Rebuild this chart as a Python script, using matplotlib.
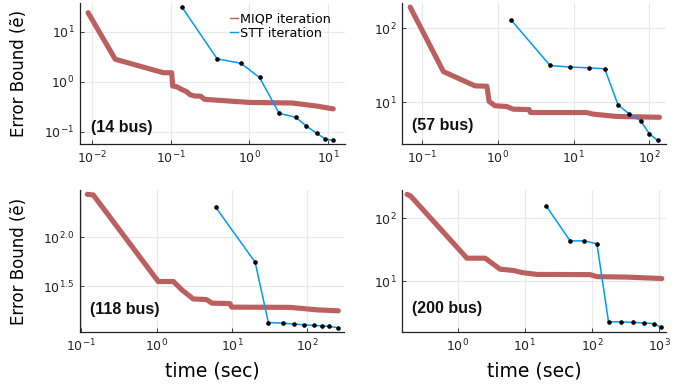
import matplotlib
matplotlib.use("Agg")
import matplotlib.pyplot as plt
from matplotlib.lines import Line2D
from matplotlib.ticker import FixedLocator, FixedFormatter, NullLocator

# ---- data (time in sec, error bound) ----
miqp14_t = [0.0089, 0.0197, 0.081, 0.103, 0.106, 0.12, 0.14, 0.16, 0.175, 0.2, 0.24, 0.27, 1.0, 3.5, 7.2, 11.7]
miqp14_e = [24.3, 2.85, 1.53, 1.53, 0.83, 0.80, 0.70, 0.64, 0.56, 0.525, 0.52, 0.45, 0.39, 0.38, 0.33, 0.29]
stt14_t = [0.14, 0.39, 0.78, 1.35, 2.4, 3.9, 5.3, 7.2, 9.3, 11.7]
stt14_e = [31, 2.9, 2.37, 1.23, 0.236, 0.196, 0.132, 0.094, 0.072, 0.068]

miqp57_t = [0.070, 0.192, 0.50, 0.72, 0.77, 0.92, 1.31, 1.6, 2.6, 2.7, 14.8, 18, 37, 136]
miqp57_e = [192, 26, 16.7, 16.5, 10.3, 9.0, 8.8, 8.1, 8.0, 7.3, 7.3, 6.95, 6.46, 6.3]
stt57_t = [1.5, 4.9, 8.9, 16, 25.8, 38.6, 54, 77, 100, 129]
stt57_e = [129, 31.4, 29.9, 29.2, 28.3, 9.3, 7.0, 5.65, 3.77, 3.07]

miqp118_t = [0.12, 0.144, 1.05, 1.67, 2.15, 3.07, 4.6, 5.4, 9.4, 9.9, 59, 134, 258]
miqp118_e = [273, 269, 35.5, 35.5, 29.3, 23.6, 23.3, 21.4, 21.2, 19.5, 19.4, 18.3, 17.9]
stt118_t = [6.1, 20.3, 30.4, 47, 67, 91, 121, 156, 197, 253]
stt118_e = [201, 55.8, 13.6, 13.4, 13.1, 12.9, 12.7, 12.6, 12.4, 12.05]

miqp200_t = [0.177, 0.2, 1.38, 2.58, 4.3, 6.8, 9.1, 15.1, 94, 119, 331, 1100]
miqp200_e = [239, 225, 23.3, 23.3, 15.6, 14.9, 13.8, 12.9, 12.8, 11.9, 11.7, 11.1]
stt200_t = [20.9, 47.5, 77.6, 119, 177, 270, 406, 600, 845, 1070]
stt200_e = [156, 43.8, 43.8, 39.3, 2.30, 2.28, 2.24, 2.2, 2.14, 1.87]

labels = ["(14 bus)", "(57 bus)", "(118 bus)", "(200 bus)"]

RED = "#bb5f5f"
BLUE = "#009afa"

fig = plt.figure(figsize=(6.91, 3.91), dpi=100)
W, H = 691.0, 391.0

def make_axes(x0, x1, ytop, ybot):
    return fig.add_axes([x0 / W, 1 - ybot / H, (x1 - x0) / W, (ybot - ytop) / H])

axs = [make_axes(80, 345, 3, 144), make_axes(402, 666, 3, 144),
       make_axes(80, 344, 190, 332), make_axes(402, 666, 190, 332)]

series = [(miqp14_t, miqp14_e, stt14_t, stt14_e),
          (miqp57_t, miqp57_e, stt57_t, stt57_e),
          (miqp118_t, miqp118_e, stt118_t, stt118_e),
          (miqp200_t, miqp200_e, stt200_t, stt200_e)]

xlims = [(0.00702, 16.5), (0.0546, 166), (0.096, 307), (0.149, 1271)]
ylims = [(0.0575, 38), (2.75, 218), (10.9, 302), (1.58, 280)]
xticks = [[1e-2, 1e-1, 1, 10], [1e-1, 1, 10, 100], [1e-1, 1, 10, 100], [1, 10, 100, 1000]]
xtlabels = [[r"$10^{-2}$", r"$10^{-1}$", r"$10^{0}$", r"$10^{1}$"],
            [r"$10^{-1}$", r"$10^{0}$", r"$10^{1}$", r"$10^{2}$"],
            [r"$10^{-1}$", r"$10^{0}$", r"$10^{1}$", r"$10^{2}$"],
            [r"$10^{0}$", r"$10^{1}$", r"$10^{2}$", r"$10^{3}$"]]
yticks = [[0.1, 1, 10], [10, 100], [10 ** 1.5, 100], [10, 100]]
ytlabels = [[r"$10^{-1}$", r"$10^{0}$", r"$10^{1}$"],
            [r"$10^{1}$", r"$10^{2}$"],
            [r"$10^{1.5}$", r"$10^{2.0}$"],
            [r"$10^{1}$", r"$10^{2}$"]]
label_pos = [(0.04, 0.12), (0.038, 0.128), (0.038, 0.155), (0.038, 0.169)]

for i, ax in enumerate(axs):
    mt, me, st, se = series[i]
    ax.plot(mt, me, color=RED, lw=3.7, solid_capstyle="round", solid_joinstyle="round", zorder=2)
    ax.plot(st, se, color=BLUE, lw=1.1, marker="o", ms=2.3, mfc="black", mec="black", zorder=3)
    ax.set_xscale("log")
    ax.set_yscale("log")
    ax.set_xlim(*xlims[i])
    ax.set_ylim(*ylims[i])
    ax.xaxis.set_major_locator(FixedLocator(xticks[i]))
    ax.xaxis.set_major_formatter(FixedFormatter(xtlabels[i]))
    ax.yaxis.set_major_locator(FixedLocator(yticks[i]))
    ax.yaxis.set_major_formatter(FixedFormatter(ytlabels[i]))
    ax.xaxis.set_minor_locator(NullLocator())
    ax.yaxis.set_minor_locator(NullLocator())
    ax.grid(True, color="#e8e8e8", lw=0.8, zorder=0)
    ax.set_axisbelow(True)
    for s in ["top", "right"]:
        ax.spines[s].set_visible(False)
    for s in ["left", "bottom"]:
        ax.spines[s].set_linewidth(0.9)
        ax.spines[s].set_color("#222222")
    ax.tick_params(direction="in", length=3, width=0.6, labelsize=9, colors="#222222", pad=4)
    ax.text(label_pos[i][0], label_pos[i][1], labels[i], transform=ax.transAxes,
            fontsize=11.5, fontweight="bold", family="Liberation Sans",
            va="center", ha="left", color="#111111")

# legend (line handles only, no markers)
handles = [Line2D([], [], color=RED, lw=1.0), Line2D([], [], color=BLUE, lw=1.0)]
axs[0].legend(handles, ["MIQP iteration", "STT iteration"], loc="upper left",
              bbox_to_anchor=(0.566, 0.93), frameon=False, fontsize=9.2,
              handlelength=0.65, handletextpad=0.12, labelspacing=0.08,
              borderpad=0, borderaxespad=0)

axs[0].set_ylabel("Error Bound (ẽ)", fontsize=12)
axs[0].yaxis.set_label_coords(-0.196, 0.5)
axs[2].set_ylabel("Error Bound (ẽ)", fontsize=12)
axs[2].yaxis.set_label_coords(-0.196, 0.5)
for ax in [axs[2], axs[3]]:
    ax.set_xlabel("time (sec)", fontsize=13.5)
    ax.xaxis.set_label_coords(0.5, -0.205)

fig.savefig("out.png", dpi=100)
